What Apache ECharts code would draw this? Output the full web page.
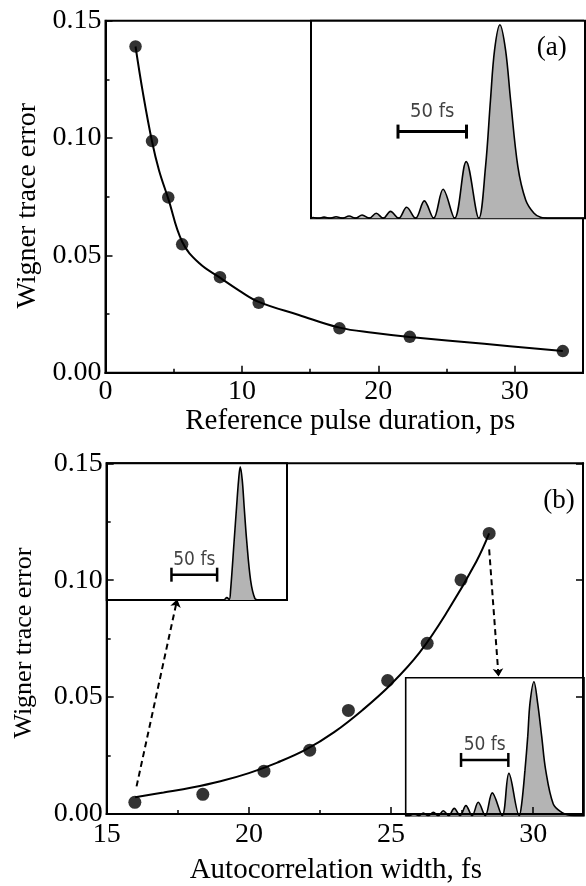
<!DOCTYPE html>
<html><head><meta charset="utf-8">
<script src="https://cdn.jsdelivr.net/npm/echarts@6/dist/echarts.min.js"></script>
<style>html,body{margin:0;padding:0;background:#fff}#c{width:586px;height:886px}</style>
</head><body><div id="c"></div>
<script>
// ---------- Panel (a) data ----------
const topPointsX = [2.2, 3.41, 4.6, 5.62, 8.39, 11.23, 17.15, 22.3, 33.52];
const topPointsY = [0.139, 0.0987, 0.0747, 0.0547, 0.0407, 0.0298, 0.0189, 0.0153, 0.0092];
const topFitX = [2.2, 2.75, 3.41, 3.92, 4.6, 5.62, 6.88, 8.39, 9.8, 11.23, 14.17, 17.15, 19.6, 22.3, 27.76, 33.52];
const topFitY = [0.139, 0.119, 0.0985, 0.0863, 0.0742, 0.0558, 0.0466, 0.0405, 0.035, 0.0302, 0.0246, 0.0192, 0.017, 0.0152, 0.0123, 0.0092];
const topXName = 'Reference pulse duration, ps';

// ---------- Panel (b) data ----------
const botPointsX = [15.99, 18.38, 20.53, 22.14, 23.5, 24.88, 26.27, 27.46, 28.45];
const botPointsY = [0.005, 0.0084, 0.0183, 0.0273, 0.0443, 0.0571, 0.073, 0.1001, 0.12];
const botFitX = [16.0, 17, 18, 19, 20, 21, 22, 23, 24, 25, 26, 27, 28, 28.45];
const botFitY = [0.0072, 0.0092, 0.0113, 0.014, 0.0175, 0.022, 0.0275, 0.035, 0.0445, 0.0555, 0.069, 0.087, 0.108, 0.12];
const botXName = 'Autocorrelation width, fs';
const yName = 'Wigner trace error';

// dashed arrows (data coords of panel b)
const arrow1 = [[16.05, 0.0118], [17.48, 0.0919]];
const arrow2 = [[28.45, 0.1132], [28.78, 0.0588]];

// ---------- Insets: pulse shapes (time in fs, relative intensity) ----------
const insetAX = [0, 1.5, 5.5, 9.5, 14, 18.3, 23, 27.8, 32.5, 37.3, 42.5, 47.6, 52.8, 58, 64, 69.8, 76.3, 82.7, 89.5, 96.4, 104.8, 113.3, 122.5, 127.4, 131.0, 134.0, 137.9, 142.0, 145.7, 151.0, 156.7, 162.8, 167.6, 175, 200];
const insetAY = [0, 0.004, 0, 0.006, 0, 0.008, 0, 0.012, 0, 0.017, 0, 0.026, 0, 0.036, 0, 0.057, 0, 0.09, 0, 0.15, 0, 0.293, 0, 0.267, 0.61, 0.87, 1.0, 0.87, 0.61, 0.267, 0.095, 0.026, 0.005, 0, 0];
const insetB1X = [0, 128, 131.5, 134.2, 135.6, 139.6, 142.2, 144.4, 146.2, 148.4, 150.5, 153.2, 157.6, 162.3, 166, 197.4];
const insetB1Y = [0, 0, 0.018, 0.004, 0.07, 0.45, 0.70, 0.9, 1.0, 0.9, 0.70, 0.45, 0.146, 0.01, 0, 0];
const insetB2X = [0, 4, 8.8, 13.7, 18.6, 23.9, 29.2, 34.5, 39.7, 45.5, 51.3, 57.5, 63.7, 70.2, 76.7, 84.1, 91.5, 102, 109.1, 120.1, 122.6, 126.1, 129.0, 131.4, 135.6, 139.5, 143.8, 148.0, 156.0, 164.9, 171.9, 178, 188.5];
const insetB2Y = [0, 0, 0.015, 0, 0.02, 0, 0.025, 0, 0.037, 0, 0.055, 0, 0.075, 0, 0.10, 0, 0.17, 0, 0.316, 0, 0.0875, 0.34, 0.59, 0.84, 1.0, 0.84, 0.59, 0.34, 0.0875, 0.025, 0.005, 0, 0];
// scale bars (fs, relative height)
const barA = [[63.5, 0.448], [113.5, 0.448]];
const barB1 = [[70.9, 0.19], [120.9, 0.19]];
const barB2 = [[58.5, 0.416], [108.5, 0.416]];
const barText = '50 fs';

const SERIF = '"Liberation Serif","Times New Roman",serif';
const NARROW = '"Liberation Sans Narrow","Arial Narrow","DejaVu Sans Condensed",sans-serif';
const zip = (xs, ys) => xs.map((x, i) => [x, ys[i]]);
const mid = b => [[(b[0][0] + b[1][0]) / 2, b[0][1]]];

const axLine = {show: true, lineStyle: {color: '#000', width: 2}};
const tickMinor = {show: true, inside: true, length: 4, lineStyle: {color: '#000', width: 1.5}};
const tickMajor = {show: true, inside: true, length: 7, lineStyle: {color: '#000', width: 1.5}};
const hidden = {show: false};

const chart = echarts.init(document.getElementById('c'), null, {renderer: 'canvas'});
const option = {
  animation: false,
  backgroundColor: '#fff',
  grid: [
    {left: 105.5, top: 20.7, width: 479.5, height: 352, show: true, borderColor: '#000', borderWidth: 2, backgroundColor: 'transparent', z: 0},
    {left: 106.7, top: 463.3, width: 477.3, height: 352.4, show: true, borderColor: '#000', borderWidth: 2, backgroundColor: 'transparent', z: 0},
    {left: 311, top: 20.7, width: 274, height: 197.6, show: true, borderColor: '#000', borderWidth: 2, backgroundColor: '#fff', z: 3},
    {left: 106.7, top: 463.3, width: 180.3, height: 136.7, show: true, borderColor: '#000', borderWidth: 2, backgroundColor: '#fff', z: 3},
    {left: 405.7, top: 677.7, width: 178.3, height: 138, show: true, borderColor: '#000', borderWidth: 1.6, backgroundColor: '#fff', z: 3}
  ],
  xAxis: [
    {gridIndex: 0, type: 'value', min: 0, max: 35, interval: 5, position: 'bottom', z: 6,
     axisLine: axLine, axisTick: tickMinor, axisLabel: hidden, splitLine: hidden},
    {gridIndex: 0, type: 'value', min: 0, max: 35, interval: 10, position: 'bottom', z: 6,
     axisLine: axLine, axisTick: tickMajor, splitLine: hidden,
     axisLabel: {show: true, margin: 5, fontSize: 28, fontFamily: SERIF, color: '#000',
       formatter: v => (Math.abs(v % 10) < 1e-9 ? String(v) : '')},
     name: topXName, nameLocation: 'middle', nameGap: 29,
     nameTextStyle: {fontSize: 29, fontFamily: SERIF, color: '#000', padding: [0, 0, 0, 12]}},
    {gridIndex: 1, type: 'value', min: 15, max: 31.75, interval: 2.5, position: 'bottom', z: 6,
     axisLine: axLine, axisTick: tickMinor, axisLabel: hidden, splitLine: hidden},
    {gridIndex: 1, type: 'value', min: 15, max: 31.75, interval: 5, position: 'bottom', z: 6,
     axisLine: axLine, axisTick: tickMajor, splitLine: hidden,
     axisLabel: {show: true, margin: 7, fontSize: 28, fontFamily: SERIF, color: '#000',
       formatter: v => (Math.abs(v % 5) < 1e-9 ? String(v) : '')},
     name: botXName, nameLocation: 'middle', nameGap: 42,
     nameTextStyle: {fontSize: 29, fontFamily: SERIF, color: '#000', padding: [0, 18, 0, 0]}},
    {gridIndex: 2, type: 'value', min: 0, max: 200, show: false},
    {gridIndex: 3, type: 'value', min: 0, max: 197.4, show: false},
    {gridIndex: 4, type: 'value', min: 0, max: 188.5, show: false}
  ],
  yAxis: [
    {gridIndex: 0, type: 'value', min: 0, max: 0.15, interval: 0.05, z: 6,
     axisLine: axLine, axisTick: tickMajor, splitLine: hidden,
     minorTick: {show: true, splitNumber: 2, length: 4, lineStyle: {color: '#000', width: 1.5}},
     axisLabel: {margin: 4, fontSize: 28, fontFamily: SERIF, color: '#000', formatter: v => v.toFixed(2)},
     name: yName, nameLocation: 'middle', nameRotate: 90, nameGap: 60,
     nameTextStyle: {fontSize: 28, fontFamily: SERIF, color: '#000', padding: [0, 18, 0, 0]}},
    {gridIndex: 1, type: 'value', min: 0, max: 0.15, interval: 0.05, z: 6,
     axisLine: axLine, axisTick: tickMajor, splitLine: hidden,
     minorTick: {show: true, splitNumber: 2, length: 4, lineStyle: {color: '#000', width: 1.5}},
     axisLabel: {margin: 4, fontSize: 28, fontFamily: SERIF, color: '#000', formatter: v => v.toFixed(2)},
     name: yName, nameLocation: 'middle', nameRotate: 90, nameGap: 70,
     nameTextStyle: {fontSize: 26, fontFamily: SERIF, color: '#000', padding: [0, 9, 0, 0]}},
    {gridIndex: 1, type: 'value', min: 0, max: 0.15, interval: 0.05, position: 'right', z: 6,
     axisLine: axLine, axisTick: tickMajor, axisLabel: hidden, splitLine: hidden},
    {gridIndex: 2, type: 'value', min: 0, max: 1.021, show: false},
    {gridIndex: 3, type: 'value', min: 0, max: 1.026, show: false},
    {gridIndex: 4, type: 'value', min: 0, max: 1.03, show: false}
  ],
  series: [
    {type: 'line', xAxisIndex: 1, yAxisIndex: 0, data: zip(topFitX, topFitY), smooth: 0.4, symbol: 'none',
     lineStyle: {color: '#000', width: 2}, z: 2},
    {type: 'scatter', xAxisIndex: 1, yAxisIndex: 0, data: zip(topPointsX, topPointsY), symbolSize: 12.5,
     itemStyle: {color: '#000'}, z: 2},
    {type: 'line', xAxisIndex: 3, yAxisIndex: 1, data: zip(botFitX, botFitY), smooth: 0.4, symbol: 'none',
     lineStyle: {color: '#000', width: 2}, z: 2},
    {type: 'scatter', xAxisIndex: 3, yAxisIndex: 1, data: zip(botPointsX, botPointsY), symbolSize: 13,
     itemStyle: {color: '#000'}, z: 2},
    {type: 'lines', coordinateSystem: 'cartesian2d', xAxisIndex: 3, yAxisIndex: 1,
     symbol: ['none', 'arrow'], symbolSize: 8,
     lineStyle: {color: '#000', width: 2, type: [6, 4], opacity: 1},
     data: [{coords: arrow1}, {coords: arrow2}], z: 7},
    // insets
    {type: 'line', xAxisIndex: 4, yAxisIndex: 3, data: zip(insetAX, insetAY), smooth: 0.35, symbol: 'none',
     lineStyle: {color: '#000', width: 1.6}, areaStyle: {color: '#b4b4b4', opacity: 1}, z: 4},
    {type: 'line', xAxisIndex: 5, yAxisIndex: 4, data: zip(insetB1X, insetB1Y), smooth: 0.35, symbol: 'none',
     lineStyle: {color: '#000', width: 1.6}, areaStyle: {color: '#b4b4b4', opacity: 1}, z: 4},
    {type: 'line', xAxisIndex: 6, yAxisIndex: 5, data: zip(insetB2X, insetB2Y), smooth: 0.35, symbol: 'none',
     lineStyle: {color: '#000', width: 1.6}, areaStyle: {color: '#b4b4b4', opacity: 1}, z: 4},
    // scale bars
    {type: 'line', xAxisIndex: 4, yAxisIndex: 3, data: barA, symbol: 'rect', symbolSize: [3, 14], showSymbol: true,
     itemStyle: {color: '#000'}, lineStyle: {color: '#000', width: 3}, z: 5},
    {type: 'line', xAxisIndex: 5, yAxisIndex: 4, data: barB1, symbol: 'rect', symbolSize: [2.5, 14], showSymbol: true,
     itemStyle: {color: '#000'}, lineStyle: {color: '#000', width: 2.5}, z: 5},
    {type: 'line', xAxisIndex: 6, yAxisIndex: 5, data: barB2, symbol: 'rect', symbolSize: [2.5, 14], showSymbol: true,
     itemStyle: {color: '#000'}, lineStyle: {color: '#000', width: 2.5}, z: 5},
    {type: 'scatter', xAxisIndex: 4, yAxisIndex: 3, data: mid(barA), symbolSize: 0, z: 5,
     label: {show: true, position: 'top', distance: 10, formatter: barText, fontSize: 20, fontFamily: NARROW, color: '#111'}},
    {type: 'scatter', xAxisIndex: 5, yAxisIndex: 4, data: mid(barB1), symbolSize: 0, z: 5,
     label: {show: true, position: 'top', distance: 5, formatter: barText, fontSize: 19, fontFamily: NARROW, color: '#111'}},
    {type: 'scatter', xAxisIndex: 6, yAxisIndex: 5, data: mid(barB2), symbolSize: 0, z: 5,
     label: {show: true, position: 'top', distance: 5, formatter: barText, fontSize: 19, fontFamily: NARROW, color: '#111'}}
  ],
  graphic: [
    {type: 'text', x: 551.7, y: 47.5, z: 20,
     style: {text: '(a)', fontSize: 27, fontFamily: SERIF, fill: '#000', align: 'center', verticalAlign: 'middle'}},
    {type: 'text', x: 559, y: 501, z: 20,
     style: {text: '(b)', fontSize: 27, fontFamily: SERIF, fill: '#000', align: 'center', verticalAlign: 'middle'}}
  ]
};
chart.setOption(option);
</script></body></html>
